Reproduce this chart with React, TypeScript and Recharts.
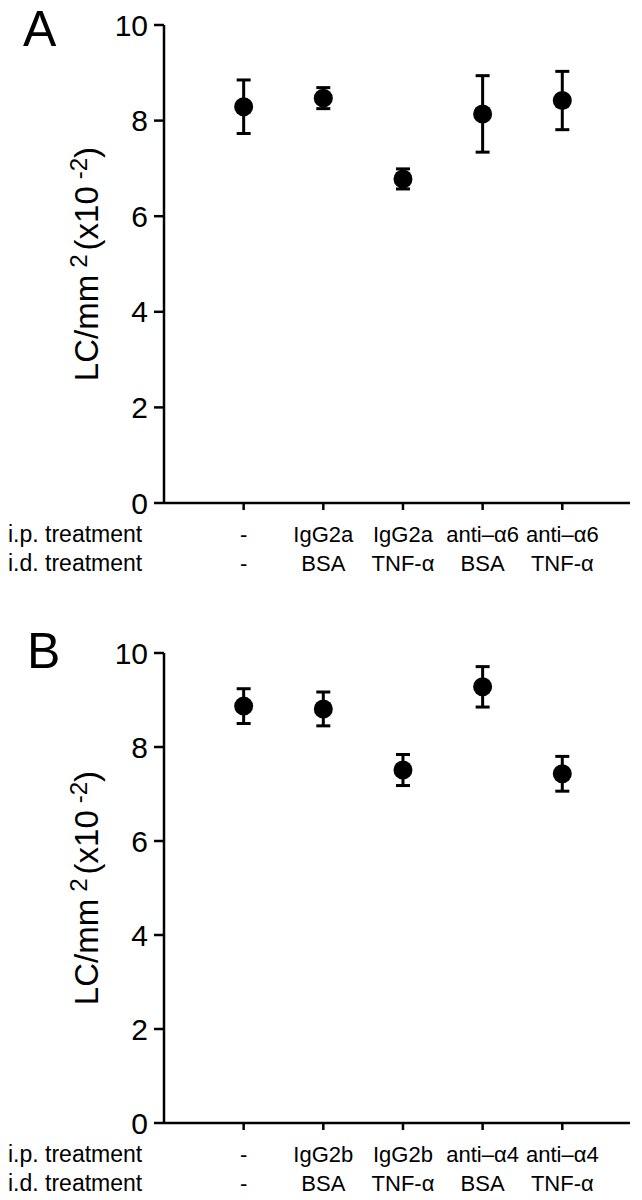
import React from "react";
import { ErrorBar, Scatter, ScatterChart, XAxis, YAxis } from "recharts";

const FONT = "'Liberation Sans', Arial, Helvetica, sans-serif";

// x positions of the five groups
const groupPositions = [1, 2, 3, 4, 5];
const yTicks = [0, 2, 4, 6, 8, 10];

// panel A
const ipTreatmentA = ["-", "IgG2a", "IgG2a", "anti\u2013\u03b16", "anti\u2013\u03b16"];
const idTreatmentA = ["-", "BSA", "TNF-\u03b1", "BSA", "TNF-\u03b1"];
const meanA = [8.29, 8.47, 6.78, 8.14, 8.42];
const errA = [0.56, 0.22, 0.21, 0.8, 0.61];

// panel B
const ipTreatmentB = ["-", "IgG2b", "IgG2b", "anti\u2013\u03b14", "anti\u2013\u03b14"];
const idTreatmentB = ["-", "BSA", "TNF-\u03b1", "BSA", "TNF-\u03b1"];
const meanB = [8.87, 8.81, 7.51, 9.28, 7.43];
const errB = [0.37, 0.36, 0.33, 0.43, 0.37];

type PanelProps = {
  letter: string;
  letterX: number;
  letterY: number;
  ip: string[];
  id: string[];
  mean: number[];
  err: number[];
  marginTop: number;
  xAxisHeight: number;
};

const W = 642;
const H = 600;
const AXIS_X = 164;

function Dot(props: any) {
  const { cx, cy } = props;
  if (cx == null || cy == null) return null;
  return <circle cx={cx} cy={cy} r={9.5} fill="#000" />;
}

function Panel({ letter, letterX, letterY, ip, id, mean, err, marginTop, xAxisHeight }: PanelProps) {
  const data = groupPositions.map((x, i) => ({ x, y: mean[i], err: err[i] }));
  const plotBottom = H - xAxisHeight;
  const plotMid = (marginTop + plotBottom) / 2;

  const renderTick = (props: any) => {
    const i = groupPositions.indexOf(props.payload.value);
    return (
      <g>
        <text x={props.x} y={plotBottom + 39} textAnchor="middle" fontSize={22} fontFamily={FONT} fill="#000">
          {ip[i]}
        </text>
        <text x={props.x} y={plotBottom + 68} textAnchor="middle" fontSize={22} fontFamily={FONT} fill="#000">
          {id[i]}
        </text>
      </g>
    );
  };

  return (
    <div style={{ position: "relative", width: W, height: H }}>
      <ScatterChart width={W} height={H} margin={{ top: marginTop, right: 12, bottom: 0, left: 0 }}>
        <XAxis
          type="number"
          dataKey="x"
          domain={[0, 5.85]}
          ticks={groupPositions}
          height={xAxisHeight}
          axisLine={{ stroke: "#000", strokeWidth: 2.5 }}
          tickLine={{ stroke: "#000", strokeWidth: 2.5 }}
          tickSize={7}
          tick={renderTick}
          interval={0}
        />
        <YAxis
          type="number"
          dataKey="y"
          domain={[0, 10]}
          ticks={yTicks}
          width={AXIS_X}
          axisLine={{ stroke: "#000", strokeWidth: 2.5 }}
          tickLine={{ stroke: "#000", strokeWidth: 2.5 }}
          tickSize={10}
          tickMargin={6}
          tick={{ fill: "#000", fontSize: 30, fontFamily: FONT }}
          interval={0}
        />
        <Scatter data={data} shape={Dot} isAnimationActive={false}>
          <ErrorBar dataKey="err" direction="y" width={7} strokeWidth={3} stroke="#000" isAnimationActive={false} />
        </Scatter>
      </ScatterChart>
      <svg width={W} height={H} style={{ position: "absolute", left: 0, top: 0, pointerEvents: "none" }}>
        <text x={letterX} y={letterY} fontSize={50} fontFamily={FONT} fill="#000">
          {letter}
        </text>
        <text
          x={98}
          y={plotMid}
          transform={`rotate(-90 98 ${plotMid})`}
          textAnchor="middle"
          fontSize={33}
          fontFamily={FONT}
          fill="#000"
        >
          LC/mm
          <tspan dx={7} dy={-11} fontSize={24}>2</tspan>
          <tspan dx={4} dy={11}>(x10</tspan>
          <tspan dx={7} dy={-11} fontSize={24}>-2</tspan>
          <tspan dy={11}>)</tspan>
        </text>
        <text x={8} y={plotBottom + 39} fontSize={23} fontFamily={FONT} fill="#000">
          i.p. treatment
        </text>
        <text x={8} y={plotBottom + 68} fontSize={23} fontFamily={FONT} fill="#000">
          i.d. treatment
        </text>
      </svg>
    </div>
  );
}

export default function App() {
  return (
    <div style={{ position: "absolute", left: 0, top: 0, width: W, height: 1200, background: "#fff" }}>
      <Panel
        letter="A"
        letterX={23}
        letterY={46}
        ip={ipTreatmentA}
        id={idTreatmentA}
        mean={meanA}
        err={errA}
        marginTop={25}
        xAxisHeight={97}
      />
      <Panel
        letter="B"
        letterX={27}
        letterY={68}
        ip={ipTreatmentB}
        id={idTreatmentB}
        mean={meanB}
        err={errB}
        marginTop={53}
        xAxisHeight={77}
      />
    </div>
  );
}
